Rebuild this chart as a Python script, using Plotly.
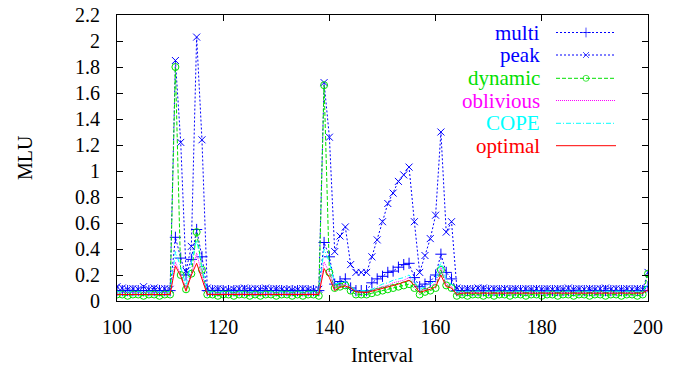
import plotly.graph_objects as go

intervals = list(range(100, 201))

multi = [
    0.08, 0.08, 0.08, 0.08, 0.08, 0.08, 0.08, 0.08, 0.08, 0.08,
    0.08, 0.49, 0.33, 0.20, 0.32, 0.55, 0.34, 0.08, 0.08, 0.08,
    0.08, 0.08, 0.08, 0.08, 0.08, 0.08, 0.08, 0.08, 0.08, 0.08,
    0.08, 0.08, 0.08, 0.08, 0.08, 0.08, 0.08, 0.08, 0.08, 0.45,
    0.34, 0.13, 0.15, 0.17, 0.10, 0.08, 0.08, 0.08, 0.14, 0.17,
    0.19, 0.22, 0.23, 0.26, 0.28, 0.29, 0.18, 0.11, 0.13, 0.15,
    0.20, 0.36, 0.22, 0.17, 0.08, 0.08, 0.08, 0.08, 0.08, 0.08,
    0.08, 0.08, 0.08, 0.08, 0.08, 0.08, 0.08, 0.08, 0.08, 0.08,
    0.08, 0.08, 0.08, 0.08, 0.08, 0.08, 0.08, 0.08, 0.08, 0.08,
    0.08, 0.08, 0.08, 0.08, 0.08, 0.08, 0.08, 0.08, 0.08, 0.08,
    0.11,
]

peak = [
    0.11, 0.10, 0.09, 0.095, 0.09, 0.11, 0.09, 0.10, 0.09, 0.095,
    0.09, 1.85, 1.22, 0.23, 0.42, 2.03, 1.24, 0.10, 0.09, 0.095,
    0.09, 0.085, 0.09, 0.095, 0.10, 0.09, 0.095, 0.09, 0.10, 0.09,
    0.095, 0.09, 0.09, 0.085, 0.09, 0.095, 0.09, 0.085, 0.09, 1.68,
    1.26, 0.38, 0.50, 0.57, 0.28, 0.22, 0.22, 0.22, 0.34, 0.47,
    0.61, 0.75, 0.83, 0.92, 0.97, 1.03, 0.61, 0.22, 0.35, 0.48,
    0.66, 1.30, 0.53, 0.61, 0.10, 0.09, 0.095, 0.09, 0.10, 0.10,
    0.09, 0.095, 0.09, 0.095, 0.09, 0.095, 0.09, 0.095, 0.09, 0.095,
    0.09, 0.095, 0.09, 0.095, 0.09, 0.10, 0.09, 0.095, 0.09, 0.095,
    0.09, 0.095, 0.10, 0.09, 0.095, 0.09, 0.095, 0.09, 0.095, 0.09,
    0.22,
]

dynamic = [
    0.05, 0.05, 0.04, 0.05, 0.05, 0.04, 0.05, 0.05, 0.04, 0.05,
    0.05, 1.80, 0.20, 0.09, 0.21, 0.53, 0.24, 0.05, 0.05, 0.04,
    0.05, 0.05, 0.04, 0.05, 0.05, 0.04, 0.05, 0.04, 0.05, 0.05,
    0.04, 0.05, 0.05, 0.04, 0.05, 0.04, 0.05, 0.05, 0.04, 1.66,
    0.22, 0.10, 0.11, 0.12, 0.08, 0.05, 0.05, 0.05, 0.06, 0.07,
    0.08, 0.09, 0.10, 0.11, 0.12, 0.13, 0.10, 0.05, 0.07, 0.08,
    0.10, 0.24, 0.12, 0.10, 0.04, 0.05, 0.04, 0.05, 0.05, 0.04,
    0.05, 0.04, 0.05, 0.05, 0.04, 0.05, 0.05, 0.04, 0.05, 0.05,
    0.04, 0.05, 0.05, 0.04, 0.05, 0.05, 0.04, 0.05, 0.05, 0.04,
    0.05, 0.05, 0.04, 0.05, 0.05, 0.04, 0.05, 0.05, 0.04, 0.05,
    0.21,
]

oblivious = [
    0.065, 0.065, 0.065, 0.065, 0.065, 0.065, 0.065, 0.065, 0.065, 0.065,
    0.065, 0.30, 0.20, 0.10, 0.20, 0.37, 0.20, 0.06, 0.06, 0.06,
    0.06, 0.06, 0.06, 0.06, 0.06, 0.06, 0.06, 0.06, 0.06, 0.06,
    0.06, 0.06, 0.06, 0.06, 0.06, 0.06, 0.06, 0.06, 0.06, 0.30,
    0.22, 0.11, 0.12, 0.13, 0.11, 0.08, 0.07, 0.07, 0.08, 0.10,
    0.11, 0.12, 0.14, 0.15, 0.16, 0.18, 0.14, 0.08, 0.09, 0.11,
    0.14, 0.26, 0.13, 0.11, 0.065, 0.07, 0.07, 0.07, 0.07, 0.07,
    0.07, 0.07, 0.07, 0.07, 0.07, 0.07, 0.07, 0.07, 0.07, 0.07,
    0.07, 0.07, 0.07, 0.07, 0.07, 0.07, 0.07, 0.07, 0.07, 0.07,
    0.07, 0.07, 0.07, 0.07, 0.07, 0.07, 0.07, 0.07, 0.07, 0.07,
    0.10,
]

cope = [
    0.07, 0.07, 0.07, 0.07, 0.07, 0.07, 0.07, 0.07, 0.07, 0.07,
    0.07, 0.38, 0.26, 0.12, 0.30, 0.47, 0.26, 0.07, 0.07, 0.07,
    0.07, 0.07, 0.07, 0.07, 0.07, 0.07, 0.07, 0.07, 0.07, 0.07,
    0.07, 0.07, 0.07, 0.07, 0.07, 0.07, 0.07, 0.07, 0.07, 0.40,
    0.30, 0.13, 0.14, 0.15, 0.11, 0.08, 0.08, 0.08, 0.09, 0.11,
    0.13, 0.14, 0.16, 0.17, 0.18, 0.20, 0.15, 0.09, 0.11, 0.13,
    0.16, 0.30, 0.16, 0.13, 0.07, 0.075, 0.075, 0.075, 0.075, 0.075,
    0.075, 0.075, 0.075, 0.075, 0.075, 0.075, 0.075, 0.075, 0.075, 0.075,
    0.075, 0.075, 0.075, 0.075, 0.075, 0.075, 0.075, 0.075, 0.075, 0.075,
    0.075, 0.075, 0.075, 0.075, 0.075, 0.075, 0.075, 0.075, 0.075, 0.075,
    0.13,
]

optimal = [
    0.05, 0.05, 0.05, 0.05, 0.05, 0.05, 0.05, 0.05, 0.05, 0.05,
    0.05, 0.27, 0.19, 0.075, 0.20, 0.29, 0.17, 0.05, 0.05, 0.05,
    0.05, 0.05, 0.05, 0.05, 0.05, 0.05, 0.05, 0.05, 0.05, 0.05,
    0.05, 0.05, 0.05, 0.05, 0.05, 0.05, 0.05, 0.05, 0.05, 0.25,
    0.18, 0.08, 0.105, 0.115, 0.10, 0.07, 0.065, 0.065, 0.075, 0.085,
    0.095, 0.11, 0.12, 0.13, 0.145, 0.16, 0.12, 0.065, 0.08, 0.09,
    0.11, 0.20, 0.11, 0.10, 0.05, 0.06, 0.06, 0.06, 0.06, 0.06,
    0.06, 0.06, 0.06, 0.06, 0.06, 0.06, 0.06, 0.06, 0.06, 0.06,
    0.06, 0.06, 0.06, 0.06, 0.06, 0.06, 0.06, 0.06, 0.06, 0.06,
    0.06, 0.06, 0.06, 0.06, 0.06, 0.06, 0.06, 0.06, 0.06, 0.06,
    0.085,
]

y_ticks = [0, 0.2, 0.4, 0.6, 0.8, 1, 1.2, 1.4, 1.6, 1.8, 2, 2.2]
x_ticks = [100, 120, 140, 160, 180, 200]

BLUE = "#0000ff"
GREEN = "#00e000"
MAGENTA = "#ff00ff"
CYAN = "#00ffff"
RED = "#ff0000"
FONT = "Liberation Serif, DejaVu Serif, serif"

series = [
    dict(name="multi", y=multi, color=BLUE, dash="2px,2px", mode="lines+markers",
         symbol="cross-thin-open", size=8),
    dict(name="peak", y=peak, color=BLUE, dash="2px,2px", mode="lines+markers",
         symbol="x-thin-open", size=7),
    dict(name="dynamic", y=dynamic, color=GREEN, dash="4px,2px", mode="lines+markers",
         symbol="circle-open", size=7),
    dict(name="oblivious", y=oblivious, color=MAGENTA, dash="1px,1px", mode="lines",
         symbol=None, size=0),
    dict(name="COPE", y=cope, color=CYAN, dash="5px,2px,1px,2px", mode="lines",
         symbol=None, size=0),
    dict(name="optimal", y=optimal, color=RED, dash="solid", mode="lines",
         symbol=None, size=0),
]

fig = go.Figure()
for s in series:
    kw = dict(x=intervals, y=s["y"], name=s["name"], mode=s["mode"],
              line=dict(color=s["color"], width=1, dash=s["dash"]),
              showlegend=False)
    if s["symbol"]:
        kw["marker"] = dict(symbol=s["symbol"], size=s["size"], color=s["color"],
                            line=dict(color=s["color"], width=1))
    fig.add_trace(go.Scatter(**kw))

# manual gnuplot-style legend (text on the left, sample on the right),
# overlay axes expressed in page pixels
leg_rows = [32.5, 55, 78.3, 100.5, 123.3, 145.7]
for s, yy in zip(series, leg_rows):
    kw = dict(x=[556, 586, 616], y=[yy, yy, yy], mode="lines",
              line=dict(color=s["color"], width=1, dash=s["dash"]),
              xaxis="x2", yaxis="y2", showlegend=False, hoverinfo="skip")
    if s["symbol"]:
        kw["mode"] = "lines+markers"
        kw["marker"] = dict(symbol=s["symbol"], size=[0, s["size"] - 1, 0], color=s["color"],
                            line=dict(color=s["color"], width=1))
    fig.add_trace(go.Scatter(**kw))
    fig.add_annotation(x=542, y=yy, xref="x2", yref="y2", text=s["name"],
                       showarrow=False, xanchor="right", yanchor="middle",
                       font=dict(family=FONT, size=21, color=s["color"]))

axis_common = dict(showline=True, linecolor="black", linewidth=1, mirror="ticks",
                   ticks="inside", ticklen=6, tickwidth=1, tickcolor="black",
                   showgrid=False, zeroline=False, ticklabeloverflow="allow",
                   automargin=False,
                   tickfont=dict(family=FONT, size=20, color="black"))

# page has an 8px body margin: figure is 8px smaller and shifted
fig.update_layout(
    width=670, height=361,
    margin=dict(l=109, r=30, t=7, b=68, autoexpand=False),
    paper_bgcolor="white", plot_bgcolor="white",
    xaxis=dict(range=[100, 200], tickvals=x_ticks, ticklabelstandoff=8, **axis_common),
    yaxis=dict(range=[0, 2.2], tickvals=y_ticks, ticklabelstandoff=12, **axis_common),
    xaxis2=dict(range=[117, 648], overlaying="x", visible=False, domain=[0, 1],
                automargin=False),
    yaxis2=dict(range=[301, 15], overlaying="y", visible=False, domain=[0, 1],
                automargin=False),
    font=dict(family=FONT, size=20, color="black"),
)

fig.add_annotation(x=0.5, y=(301 - 355) / 286, xref="paper", yref="paper",
                   xanchor="center", yanchor="middle", text="Interval", showarrow=False,
                   font=dict(family=FONT, size=20, color="black"))
fig.add_annotation(x=(25 - 117) / 531, y=(301 - 158) / 286, xref="paper", yref="paper",
                   text="MLU", textangle=-90, showarrow=False,
                   xanchor="center", yanchor="middle",
                   font=dict(family=FONT, size=20, color="black"))

fig.write_html("out.html")
